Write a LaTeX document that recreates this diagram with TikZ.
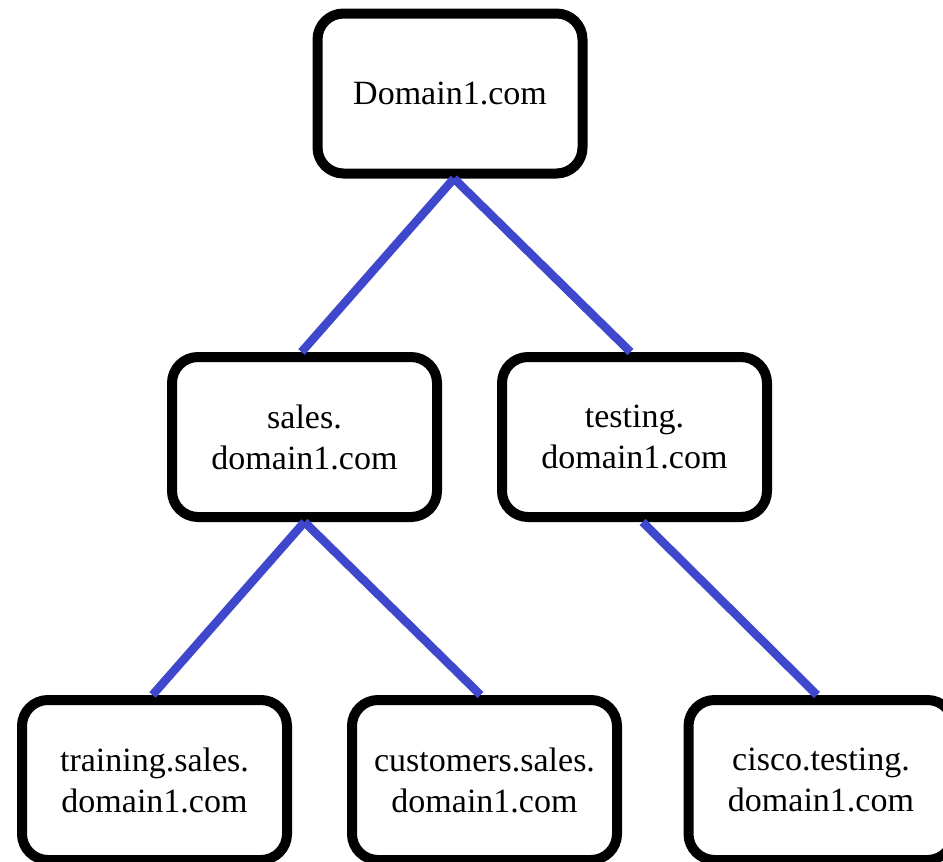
\documentclass[tikz,border=0pt]{standalone}
\usepackage{fontspec}
\setmainfont{Liberation Serif}
\definecolor{linkblue}{RGB}{63,72,204}
\begin{document}
\begin{tikzpicture}[x=1pt, y=1pt,
    box/.style={draw, line width=10pt, rounded corners=26pt,
      minimum width=265pt, minimum height=160pt, align=center,
      font=\fontsize{34}{41}\selectfont},
    link/.style={linkblue, line width=8.5pt}]
    \useasboundingbox (0, 0) rectangle (943, -862);

    \node[box] (dom) at (450, -93.5) {Domain1.com};
    \node[box] (sales) at (304.5, -437) {sales.\\domain1.com};
    \node[box] (testing) at (634.5, -437) {testing.\\domain1.com};
    \node[box] (training) at (154.5, -780) {training.sales.\\domain1.com};
    \node[box] (customers) at (484.5, -780) {customers.sales.\\domain1.com};
    \node[box] (cisco) at (821, -780) {cisco.testing.\\domain1.com};

    \draw[link] ([xshift=4pt]dom.south) -- ([xshift=-3pt]sales.north);
    \draw[link] ([xshift=4pt]dom.south) -- ([xshift=-4pt]testing.north);
    \draw[link] (sales.south) -- ([xshift=-2pt]training.north);
    \draw[link] (sales.south) -- ([xshift=-4pt]customers.north);
    \draw[link] ([xshift=8pt]testing.south) -- ([xshift=-4pt]cisco.north);
  \end{tikzpicture}
\end{document}
